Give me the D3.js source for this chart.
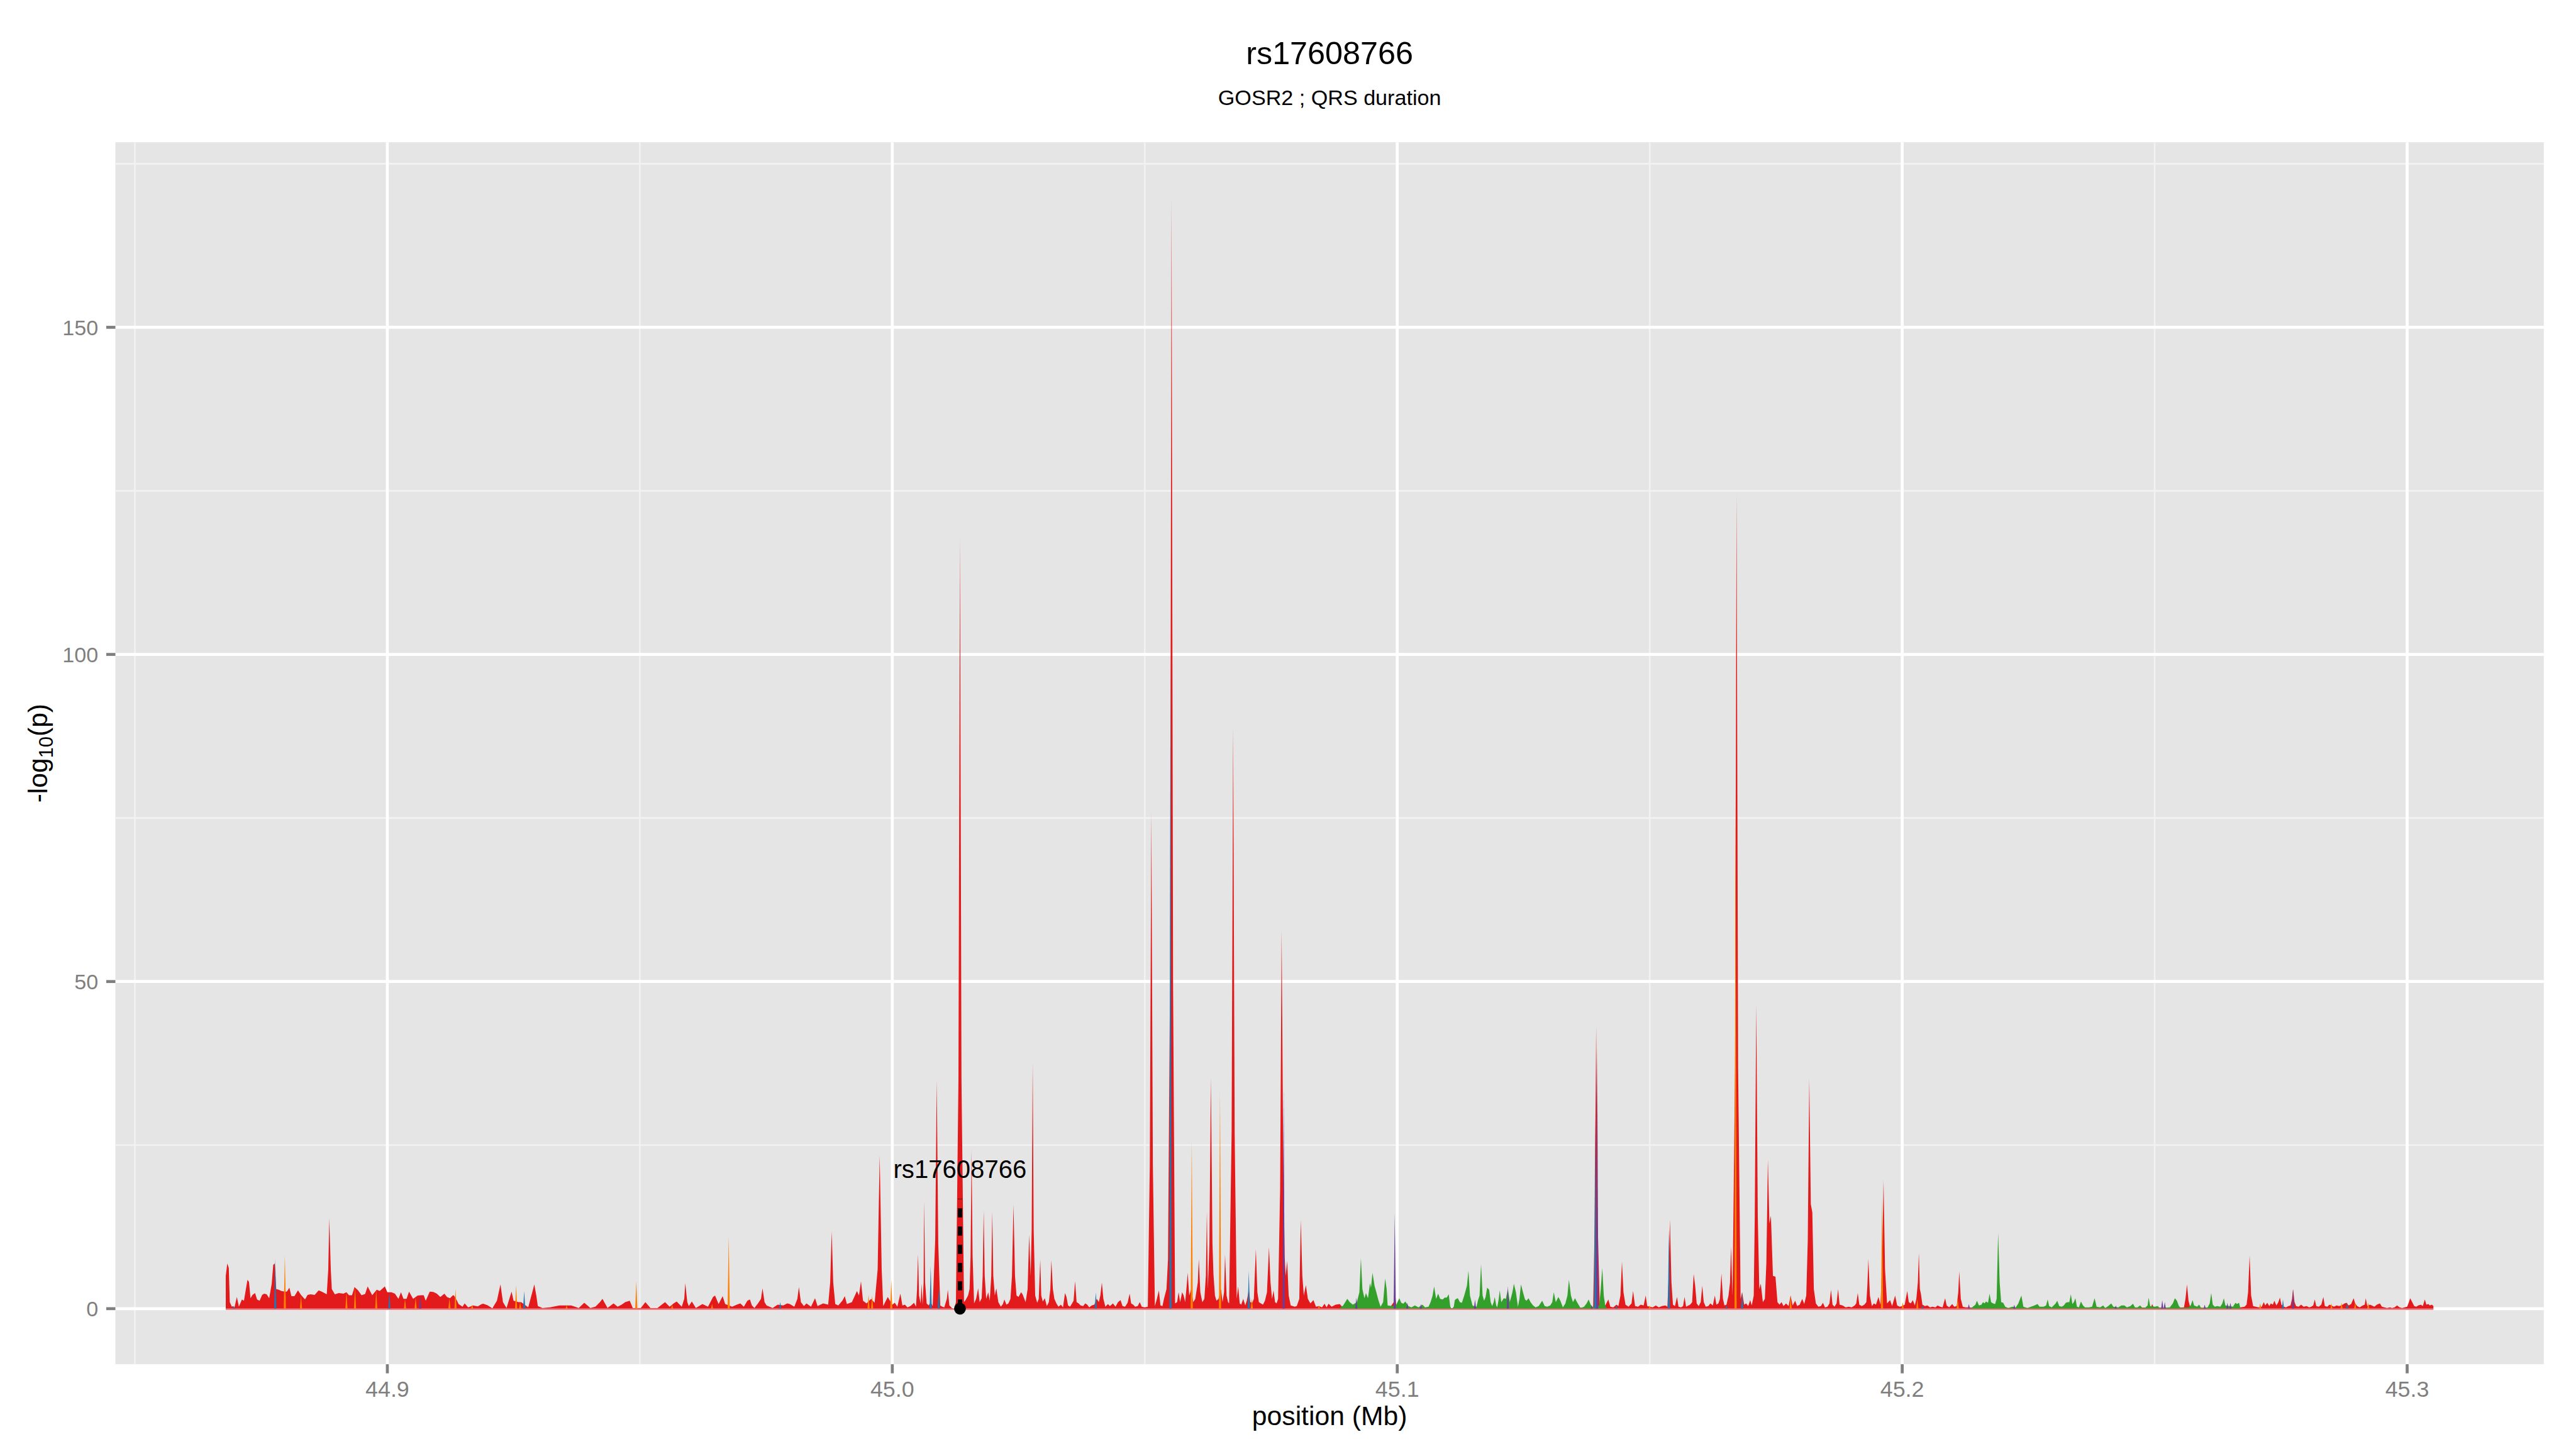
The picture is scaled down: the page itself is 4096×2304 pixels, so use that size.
<!DOCTYPE html>
<html>
<head>
<meta charset="utf-8">
<script src="https://cdn.jsdelivr.net/npm/d3@7"></script>
<style>
  html, body { margin: 0; padding: 0; background: #fff; }
  svg { display: block; }
  text { font-family: "Liberation Sans", Arial, Helvetica, sans-serif; }
</style>
</head>
<body>
<div id="chart"></div>
<script>
// Titles and labels
const plotTitle = "rs17608766";
const plotSubtitle = "GOSR2 ; QRS duration";
const xLabel = "position (Mb)";
const leadSnp = { name: "rs17608766", pos: 45.0134, labelAt: 21, lineTop: 16.8 };

// Axis ticks
const xTicks = [44.9, 45.0, 45.1, 45.2, 45.3];
const xMinorTicks = [44.85, 44.95, 45.05, 45.15, 45.25];
const yTicks = [0, 50, 100, 150];
const yMinorTicks = [25, 75, 125, 175];

// [position (Mb), -log10(p)], one list per LD colour
const ldRed = [
  [44.8680,5.0],[44.8683,6.9],[44.8686,6.2],[44.8688,1.0],[44.8692,0.3],[44.8695,0.4],[44.8697,0.1],[44.8702,1.8],[44.8706,0.3],[44.8712,1.4],
  [44.8716,1.2],[44.8723,4.4],[44.8726,4.1],[44.8729,1.6],[44.8733,2.1],[44.8738,2.4],[44.8742,1.4],[44.8747,1.2],[44.8752,2.1],[44.8756,2.3],
  [44.8761,2.2],[44.8766,1.6],[44.8771,3.8],[44.8774,6.7],[44.8777,6.9],[44.8780,3.0],[44.8785,2.9],[44.8790,2.7],[44.8797,2.6],[44.8801,2.6],
  [44.8806,3.2],[44.8810,1.9],[44.8816,1.9],[44.8823,2.8],[44.8829,2.1],[44.8837,1.4],[44.8842,2.1],[44.8848,2.2],[44.8856,2.1],[44.8864,2.8],
  [44.8870,2.6],[44.8880,2.2],[44.8883,6.0],[44.8885,13.8],[44.8888,6.0],[44.8890,3.0],[44.8896,2.2],[44.8904,2.4],[44.8913,2.3],[44.8919,2.5],
  [44.8924,2.05],[44.8930,2.05],[44.8935,3.3],[44.8942,2.8],[44.8949,2.05],[44.8956,2.25],[44.8961,3.4],[44.8970,2.05],[44.8979,2.9],[44.8985,2.7],
  [44.8995,3.4],[44.9000,2.5],[44.9008,2.5],[44.9015,2.3],[44.9022,1.5],[44.9027,2.5],[44.9032,1.5],[44.9038,1.5],[44.9043,2.6],[44.9051,1.5],
  [44.9060,2.0],[44.9067,2.05],[44.9072,2.05],[44.9076,1.2],[44.9084,2.6],[44.9091,2.55],[44.9098,2.3],[44.9105,1.8],[44.9113,2.3],[44.9118,1.8],
  [44.9124,1.6],[44.9130,2.05],[44.9132,2.0],[44.9138,1.2],[44.9141,0.7],[44.9149,0.3],[44.9153,0.8],[44.9160,0.2],[44.9170,0.5],[44.9179,0.35],
  [44.9187,0.7],[44.9190,0.75],[44.9198,0.55],[44.9208,0.05],[44.9217,1.2],[44.9224,3.7],[44.9229,1.0],[44.9236,0.1],[44.9246,2.6],[44.9250,1.2],
  [44.9260,1.0],[44.9265,1.0],[44.9279,0.2],[44.9288,2.8],[44.9291,3.7],[44.9295,2.0],[44.9298,0.4],[44.9307,0.1],[44.9322,0.2],[44.9341,0.5],
  [44.9364,0.5],[44.9379,0.1],[44.9390,0.9],[44.9402,0.1],[44.9412,0.3],[44.9421,1.0],[44.9426,1.5],[44.9431,0.8],[44.9436,0.1],[44.9448,0.8],
  [44.9456,0.3],[44.9464,0.6],[44.9471,1.0],[44.9480,1.2],[44.9486,0.1],[44.9502,0.1],[44.9511,1.0],[44.9521,0.1],[44.9535,0.1],[44.9545,0.7],
  [44.9550,1.0],[44.9559,0.3],[44.9567,0.8],[44.9573,1.1],[44.9583,0.3],[44.9588,1.5],[44.9590,3.9],[44.9594,1.0],[44.9597,0.4],[44.9603,1.1],
  [44.9611,0.1],[44.9624,0.7],[44.9635,0.3],[44.9645,1.8],[44.9649,2.0],[44.9656,0.7],[44.9664,1.9],[44.9669,0.7],[44.9683,0.3],[44.9692,0.6],
  [44.9699,0.8],[44.9706,0.3],[44.9713,1.2],[44.9718,1.4],[44.9722,0.5],[44.9727,0.1],[44.9734,0.8],[44.9740,1.5],[44.9743,3.1],[44.9747,1.0],
  [44.9751,0.5],[44.9763,0.1],[44.9773,0.6],[44.9784,0.5],[44.9792,0.8],[44.9797,0.7],[44.9806,0.3],[44.9812,1.5],[44.9815,3.3],[44.9819,1.0],
  [44.9825,0.4],[44.9830,0.8],[44.9839,0.3],[44.9847,1.6],[44.9852,0.4],[44.9863,0.8],[44.9873,0.6],[44.9877,4.0],[44.9880,11.8],[44.9883,4.0],
  [44.9887,0.7],[44.9893,0.5],[44.9901,1.2],[44.9906,1.9],[44.9910,0.7],[44.9920,1.0],[44.9930,2.7],[44.9934,2.0],[44.9938,4.2],[44.9942,1.2],
  [44.9949,0.8],[44.9958,1.5],[44.9965,0.9],[44.9971,6.0],[44.9975,23.4],[44.9979,6.0],[44.9982,0.4],[44.9991,1.8],[45.0000,0.6],[45.0005,0.9],
  [45.0010,0.3],[45.0016,2.3],[45.0020,0.5],[45.0025,0.6],[45.0030,0.2],[45.0036,0.4],[45.0043,0.9],[45.0047,0.3],[45.0049,3.0],[45.0051,8.3],
  [45.0053,2.0],[45.0056,0.8],[45.0058,3.8],[45.0060,0.6],[45.0062,4.0],[45.0063,16.5],[45.0065,4.0],[45.0068,0.8],[45.0072,0.5],[45.0076,1.0],
  [45.0080,0.4],[45.0085,10.5],[45.0088,34.9],[45.0091,10.0],[45.0095,0.5],[45.0099,0.3],[45.0103,0.2],[45.0108,1.5],[45.0110,2.9],[45.0113,0.5],
  [45.0118,0.1],[45.0123,0.0],[45.0126,1.0],[45.0131,35.0],[45.0134,117.8],[45.0137,35.0],[45.0142,1.0],[45.0145,1.3],[45.0150,2.0],[45.0153,3.0],
  [45.0155,8.0],[45.0157,24.2],[45.0159,8.0],[45.0162,0.8],[45.0166,1.5],[45.0170,3.1],[45.0173,1.0],[45.0177,1.6],[45.0179,5.0],[45.0181,15.0],
  [45.0183,5.0],[45.0186,1.5],[45.0190,2.5],[45.0193,1.2],[45.0196,5.0],[45.0198,14.8],[45.0200,5.0],[45.0203,2.0],[45.0206,3.1],[45.0210,1.0],
  [45.0215,0.3],[45.0219,0.7],[45.0222,1.4],[45.0226,0.6],[45.0230,0.8],[45.0234,1.5],[45.0237,5.0],[45.0240,15.9],[45.0243,5.0],[45.0246,2.0],
  [45.0250,1.8],[45.0255,2.5],[45.0258,2.2],[45.0264,1.0],[45.0268,3.0],[45.0271,11.3],[45.0274,5.0],[45.0276,12.0],[45.0278,37.5],[45.0280,12.0],
  [45.0283,2.0],[45.0287,0.9],[45.0290,1.5],[45.0293,7.5],[45.0295,2.0],[45.0298,1.1],[45.0302,1.6],[45.0306,0.4],[45.0310,1.0],[45.0313,3.0],
  [45.0315,7.4],[45.0318,3.0],[45.0321,1.5],[45.0325,0.8],[45.0329,0.3],[45.0334,0.6],[45.0338,0.2],[45.0342,2.4],[45.0345,1.8],[45.0348,0.5],
  [45.0352,0.3],[45.0356,0.8],[45.0359,1.2],[45.0362,4.2],[45.0365,1.0],[45.0369,0.8],[45.0373,0.5],[45.0378,0.4],[45.0382,0.8],[45.0386,0.6],
  [45.0390,0.2],[45.0395,0.5],[45.0400,0.6],[45.0405,1.5],[45.0409,1.0],[45.0412,2.0],[45.0415,4.0],[45.0418,1.5],[45.0422,0.3],[45.0427,0.7],
  [45.0431,0.4],[45.0437,0.8],[45.0442,0.3],[45.0447,1.0],[45.0452,1.3],[45.0456,0.4],[45.0461,0.3],[45.0466,0.9],[45.0470,2.3],[45.0473,0.8],
  [45.0477,0.6],[45.0481,0.3],[45.0486,0.4],[45.0490,1.0],[45.0494,0.3],[45.0500,0.2],[45.0506,0.3],[45.0510,22.0],[45.0513,75.9],[45.0516,22.0],
  [45.0520,0.4],[45.0524,1.5],[45.0528,2.8],[45.0531,0.5],[45.0535,0.4],[45.0538,1.5],[45.0543,3.0],[45.0546,7.5],[45.0550,50.0],[45.0553,169.8],
  [45.0556,50.0],[45.0560,0.8],[45.0564,1.0],[45.0567,2.5],[45.0570,1.0],[45.0574,2.5],[45.0577,2.0],[45.0580,1.0],[45.0583,3.5],[45.0585,5.5],
  [45.0588,2.0],[45.0592,3.0],[45.0596,1.0],[45.0600,1.5],[45.0603,3.0],[45.0605,4.0],[45.0607,7.6],[45.0610,2.5],[45.0614,1.0],[45.0618,1.5],
  [45.0621,5.0],[45.0623,14.8],[45.0625,3.0],[45.0628,10.0],[45.0631,35.3],[45.0634,10.0],[45.0636,5.3],[45.0639,2.0],[45.0642,1.2],[45.0646,1.5],
  [45.0651,3.0],[45.0654,1.0],[45.0657,2.5],[45.0659,8.3],[45.0662,2.0],[45.0665,1.0],[45.0667,0.8],[45.0672,27.0],[45.0675,88.9],[45.0678,27.0],
  [45.0682,1.5],[45.0685,3.4],[45.0688,0.8],[45.0691,0.6],[45.0695,1.5],[45.0699,0.5],[45.0702,1.2],[45.0704,2.0],[45.0706,3.0],[45.0709,1.0],
  [45.0713,0.9],[45.0716,1.5],[45.0720,9.1],[45.0723,2.5],[45.0726,1.0],[45.0730,0.8],[45.0734,0.6],[45.0738,1.2],[45.0742,2.5],[45.0746,9.4],
  [45.0749,4.0],[45.0752,1.5],[45.0755,2.8],[45.0758,1.0],[45.0761,0.8],[45.0764,1.5],[45.0768,18.0],[45.0771,57.9],[45.0774,25.0],[45.0777,8.0],
  [45.0779,5.0],[45.0782,7.3],[45.0785,2.0],[45.0789,0.5],[45.0793,0.4],[45.0797,0.3],[45.0801,0.4],[45.0806,1.5],[45.0809,13.6],[45.0812,5.0],
  [45.0815,2.0],[45.0819,3.6],[45.0823,1.5],[45.0828,0.8],[45.0834,1.3],[45.0839,0.3],[45.0845,0.4],[45.0851,0.2],[45.0856,0.75],[45.0860,0.2],
  [45.0864,0.75],[45.0870,0.3],[45.0878,0.6],[45.0886,0.7],[45.0892,0.2],[45.0900,0.2],[45.0915,0.1],[45.0935,0.2],[45.0960,0.1],[45.0985,0.1],
  [45.0993,1.0],[45.0995,3.0],[45.0998,0.5],[45.1010,0.2],[45.1040,0.1],[45.1080,0.1],[45.1120,0.05],[45.1160,0.1],[45.1200,0.1],[45.1222,0.3],
  [45.1225,1.7],[45.1228,0.2],[45.1260,0.1],[45.1300,0.1],[45.1340,0.1],[45.1385,0.2],[45.1388,0.3],[45.1391,13.0],[45.1394,43.2],[45.1397,13.0],
  [45.1401,0.4],[45.1412,0.5],[45.1418,1.4],[45.1422,0.3],[45.1428,0.2],[45.1434,0.6],[45.1438,0.4],[45.1442,2.0],[45.1445,7.2],[45.1448,2.5],
  [45.1452,0.6],[45.1458,0.3],[45.1464,0.8],[45.1467,2.7],[45.1471,0.4],[45.1477,0.3],[45.1482,0.6],[45.1488,0.5],[45.1492,2.0],[45.1495,0.4],
  [45.1500,0.3],[45.1506,0.2],[45.1512,0.5],[45.1518,0.2],[45.1524,0.4],[45.1531,0.5],[45.1535,0.3],[45.1537,4.0],[45.1540,13.6],[45.1543,4.0],
  [45.1546,0.6],[45.1550,0.4],[45.1554,1.8],[45.1557,0.3],[45.1562,0.2],[45.1566,0.4],[45.1569,1.8],[45.1572,0.3],[45.1577,0.5],[45.1580,0.6],
  [45.1584,1.0],[45.1587,5.3],[45.1590,3.5],[45.1593,0.8],[45.1597,0.4],[45.1601,1.0],[45.1604,3.5],[45.1607,1.0],[45.1611,0.3],[45.1616,0.4],
  [45.1620,0.8],[45.1625,0.5],[45.1629,2.0],[45.1632,0.6],[45.1636,0.8],[45.1639,1.5],[45.1642,5.4],[45.1645,1.5],[45.1648,0.5],[45.1652,0.6],
  [45.1656,2.0],[45.1659,4.0],[45.1661,9.5],[45.1664,2.0],[45.1669,37.0],[45.1672,124.5],[45.1675,37.0],[45.1680,1.5],[45.1683,2.5],[45.1687,0.6],
  [45.1691,0.8],[45.1695,0.4],[45.1699,1.3],[45.1702,0.5],[45.1706,2.0],[45.1708,14.0],[45.1711,46.5],[45.1714,14.0],[45.1717,3.0],[45.1720,3.8],
  [45.1724,1.0],[45.1728,1.5],[45.1731,7.0],[45.1734,22.8],[45.1737,13.0],[45.1740,14.2],[45.1744,5.0],[45.1749,4.9],[45.1753,1.0],[45.1757,0.6],
  [45.1761,1.0],[45.1765,0.4],[45.1770,0.8],[45.1775,0.4],[45.1779,2.0],[45.1783,0.5],[45.1788,1.2],[45.1792,0.4],[45.1797,0.6],[45.1802,1.5],
  [45.1806,0.7],[45.1810,2.0],[45.1813,10.5],[45.1816,35.2],[45.1819,16.0],[45.1822,14.7],[45.1825,3.0],[45.1829,0.8],[45.1834,0.3],[45.1839,0.4],
  [45.1843,0.9],[45.1847,0.2],[45.1852,0.3],[45.1856,0.8],[45.1859,2.9],[45.1862,0.6],[45.1866,0.3],[45.1870,0.8],[45.1873,3.0],[45.1876,0.6],
  [45.1882,0.5],[45.1888,0.2],[45.1894,0.3],[45.1900,0.2],[45.1906,0.5],[45.1909,0.8],[45.1912,2.4],[45.1915,0.6],[45.1920,0.4],[45.1925,0.6],
  [45.1929,1.0],[45.1931,3.5],[45.1933,7.6],[45.1936,2.0],[45.1940,0.4],[45.1944,0.8],[45.1948,0.6],[45.1953,1.8],[45.1957,0.6],[45.1960,6.0],
  [45.1963,19.6],[45.1966,6.0],[45.1970,0.8],[45.1976,1.3],[45.1980,0.4],[45.1986,2.0],[45.1990,0.5],[45.1995,0.3],[45.2000,0.4],[45.2005,0.6],
  [45.2010,2.7],[45.2013,1.0],[45.2017,0.8],[45.2021,1.3],[45.2025,0.5],[45.2028,1.5],[45.2031,4.0],[45.2033,8.5],[45.2035,3.0],[45.2037,2.3],
  [45.2040,0.6],[45.2045,0.4],[45.2050,0.5],[45.2055,0.2],[45.2060,0.3],[45.2066,0.2],[45.2070,0.5],[45.2075,0.3],[45.2080,0.2],[45.2085,1.6],
  [45.2088,0.5],[45.2093,0.2],[45.2099,0.7],[45.2103,0.3],[45.2108,0.4],[45.2111,2.5],[45.2113,5.7],[45.2116,1.5],[45.2120,0.3],[45.2125,0.2],
  [45.2130,0.2],[45.2150,0.1],[45.2200,0.1],[45.2250,0.1],[45.2300,0.1],[45.2350,0.1],[45.2400,0.1],[45.2450,0.1],[45.2493,0.2],[45.2495,0.7],
  [45.2498,0.2],[45.2530,0.1],[45.2558,0.2],[45.2561,1.5],[45.2564,3.7],[45.2567,1.2],[45.2570,0.3],[45.2600,0.1],[45.2670,0.2],[45.2678,0.3],
  [45.2682,0.6],[45.2685,2.5],[45.2688,8.1],[45.2691,2.0],[45.2695,0.4],[45.2700,0.3],[45.2706,0.2],[45.2712,0.3],[45.2716,1.0],[45.2719,0.5],
  [45.2723,0.9],[45.2727,0.4],[45.2730,0.8],[45.2734,0.6],[45.2737,1.2],[45.2741,0.5],[45.2745,1.0],[45.2748,1.7],[45.2751,0.6],[45.2756,0.3],
  [45.2760,0.2],[45.2765,0.4],[45.2769,0.5],[45.2772,1.5],[45.2774,3.0],[45.2777,1.0],[45.2780,0.4],[45.2785,0.3],[45.2790,0.6],[45.2795,0.3],
  [45.2801,0.4],[45.2806,0.2],[45.2810,0.3],[45.2814,0.5],[45.2817,1.4],[45.2820,0.4],[45.2825,0.3],[45.2830,0.6],[45.2834,1.8],[45.2837,0.4],
  [45.2842,0.3],[45.2846,0.6],[45.2850,0.5],[45.2855,0.3],[45.2860,0.5],[45.2865,0.4],[45.2870,0.5],[45.2876,0.8],[45.2880,0.9],[45.2884,0.5],
  [45.2889,0.7],[45.2894,1.6],[45.2897,0.8],[45.2901,0.4],[45.2906,0.2],[45.2912,0.5],[45.2916,0.6],[45.2918,1.6],[45.2921,0.4],[45.2926,0.6],
  [45.2930,0.5],[45.2935,0.3],[45.2940,0.6],[45.2946,0.8],[45.2950,0.3],[45.2955,0.2],[45.2960,0.1],[45.2966,0.2],[45.2970,0.1],[45.2975,0.2],
  [45.2980,0.5],[45.2985,0.2],[45.2990,0.1],[45.2995,0.2],[45.3000,0.3],[45.3003,0.9],[45.3006,1.6],[45.3010,1.0],[45.3014,0.4],[45.3018,0.3],
  [45.3022,0.5],[45.3027,0.6],[45.3031,0.4],[45.3035,1.4],[45.3038,0.6],[45.3042,0.7],[45.3045,0.5],[45.3049,0.6],[45.3052,0.4]
];

const ldGreenWest = [
  [45.0885,0],[45.0893,0.5],[45.0901,1.5],[45.0906,1.0],[45.0912,0.6],[45.0920,1.0],[45.0925,2.5],[45.0928,7.7],[45.0931,3.0],[45.0935,1.6],
  [45.0938,2.4],[45.0942,1.6],[45.0946,3.9],[45.0948,3.2],[45.0951,5.5],[45.0955,3.5],[45.0959,2.4],[45.0963,1.2],[45.0967,0.3],[45.0972,1.0],
  [45.0976,4.6],[45.0979,3.0],[45.0981,0.5],[45.0990,0.4],[45.0998,0.6],[45.1004,1.6],[45.1008,0.9],[45.1012,0.75],[45.1016,1.1],[45.1022,0.4],
  [45.1028,0.2],[45.1035,0.5],[45.1042,0.2],[45.1050,0.6],[45.1055,0.2],[45.1062,0.3],[45.1066,1.0],[45.1070,2.0],[45.1073,3.4],[45.1077,1.5],
  [45.1081,2.3],[45.1085,1.5],[45.1090,1.4],[45.1094,1.7],[45.1098,1.7],[45.1102,2.2],[45.1105,0.3],[45.1108,0],[45.1112,0.3],[45.1114,1.3],
  [45.1117,1.5],[45.1120,1.6],[45.1124,1.0],[45.1128,0.9],[45.1133,2.1],[45.1138,3.5],[45.1141,5.8],[45.1144,2.0],[45.1149,0.5],[45.1152,0.4],
  [45.1157,0.3],[45.1160,1.3],[45.1163,2.0],[45.1166,6.8],[45.1169,2.0],[45.1172,1.2],[45.1175,1.8],[45.1178,3.2],[45.1182,2.9],[45.1185,1.0],
  [45.1188,0.4],[45.1191,1.0],[45.1193,1.8],[45.1196,0.5],[45.1198,0.2],[45.1201,1.5],[45.1203,2.8],[45.1206,1.0],[45.1211,1.6],[45.1215,1.5],
  [45.1219,3.0],[45.1223,1.0],[45.1228,2.5],[45.1231,3.8],[45.1235,2.5],[45.1239,0.3],[45.1242,1.5],[45.1245,3.7],[45.1249,2.5],[45.1253,1.4],
  [45.1256,1.2],[45.1260,1.6],[45.1264,1.0],[45.1269,0.5],[45.1274,0.2],[45.1280,0.4],[45.1287,1.2],[45.1292,0.4],[45.1297,0.3],[45.1303,0.5],
  [45.1307,1.0],[45.1310,2.5],[45.1314,1.0],[45.1319,1.8],[45.1323,1.2],[45.1328,0.2],[45.1333,0.8],[45.1337,2.0],[45.1340,4.4],[45.1344,2.0],
  [45.1348,1.0],[45.1352,1.6],[45.1356,1.0],[45.1363,0.1],[45.1370,0.3],[45.1375,0.8],[45.1379,1.4],[45.1383,0.6],[45.1388,0.2],[45.1400,0.5],
  [45.1403,3.0],[45.1406,6.2],[45.1409,2.0],[45.1412,0.4],[45.1416,0]
];

const ldGreenEast = [
  [45.2135,0],[45.2140,0.3],[45.2145,0.6],[45.2148,1.2],[45.2152,0.5],[45.2157,0.6],[45.2160,1.0],[45.2163,0.8],[45.2166,1.1],[45.2170,0.9],
  [45.2173,2.3],[45.2176,1.0],[45.2180,0.8],[45.2184,0.7],[45.2187,1.5],[45.2190,11.6],[45.2193,4.0],[45.2196,1.0],[45.2200,0.9],[45.2204,0.3],
  [45.2210,0.1],[45.2218,0.3],[45.2225,0.2],[45.2230,0.8],[45.2236,2.0],[45.2240,0.3],[45.2248,0.1],[45.2255,0.3],[45.2262,0.5],[45.2268,0.7],
  [45.2272,0.3],[45.2280,0.3],[45.2285,0.5],[45.2288,1.4],[45.2291,0.4],[45.2296,0.2],[45.2300,0.5],[45.2304,0.8],[45.2307,1.2],[45.2311,0.4],
  [45.2316,0.3],[45.2320,0.5],[45.2324,0.9],[45.2328,1.0],[45.2331,1.0],[45.2334,2.2],[45.2337,0.7],[45.2340,1.0],[45.2343,1.6],[45.2346,0.3],
  [45.2350,0.2],[45.2354,1.1],[45.2358,0.5],[45.2362,0.2],[45.2370,0.2],[45.2376,0.3],[45.2381,1.6],[45.2385,0.3],[45.2392,0.2],[45.2398,0.5],
  [45.2402,0.1],[45.2408,0.4],[45.2414,0.8],[45.2418,0.3],[45.2428,0.2],[45.2434,0.5],[45.2440,0.5],[45.2445,0.2],[45.2452,0.4],[45.2457,0.75],
  [45.2461,0.2],[45.2466,0.2],[45.2471,0.5],[45.2476,0.1],[45.2482,0.2],[45.2486,0.5],[45.2488,1.7],[45.2491,0.4],[45.2500,0.3],[45.2506,0.4],
  [45.2510,0.1],[45.2530,0.2],[45.2536,0.8],[45.2540,1.6],[45.2544,1.2],[45.2548,0.4],[45.2552,0.1],[45.2568,0.2],[45.2572,0.6],[45.2575,1.3],
  [45.2578,0.5],[45.2584,0.3],[45.2588,0.6],[45.2592,0.1],[45.2605,0.2],[45.2609,0.8],[45.2612,2.4],[45.2615,0.6],[45.2619,0.3],[45.2624,0.4],
  [45.2630,0.3],[45.2634,0.8],[45.2637,1.6],[45.2640,0.5],[45.2655,0.3],[45.2660,0.9],[45.2663,0.7],[45.2667,0.9],[45.2670,0]
];

const ldOrange = [
  [44.8797,8.1],[44.8829,2.05],[44.8919,2.5],[44.8936,3.3],[44.8978,2.9],[44.9035,1.5],[44.9056,1.7],[44.9123,1.6],[44.9135,3.0],[44.9168,0.6],
  [44.9255,3.6],[44.9263,1.0],[44.9355,0.5],[44.9493,4.2],[44.9564,0.6],[44.9643,0.7],[44.9676,11.1],[44.9953,2.1],[44.9960,2.0],[44.9998,4.4],
  [45.0593,25.7],[45.0649,33.2],[45.0712,1.5],[45.0845,0.5],[45.1500,0.5],[45.1670,80.0],[45.1779,2.0],[45.1960,17.0],[45.2001,1.0],[45.2030,1.5],
  [45.2110,1.5],[45.2709,0.8],[45.2850,0.8],[45.2870,0.9],[45.2897,1.0],[45.2923,0.9]
];

const ldBlue = [
  [44.8696,0.4],[44.8778,7.6],[44.9004,2.5],[44.9271,2.7],[44.9778,1.0],[45.0076,6.5],[45.0092,3.3],[45.0403,2.5],[45.0551,100.0],[45.0706,5.8],
  [45.1392,30.0],[45.1434,0.5],[45.1538,12.0],[45.1652,0.5],[45.1683,2.5],[45.2040,0.4],[45.2754,1.4],[45.2881,0.9]
];

const ldPurple = [
  [44.9065,2.0],[45.0775,33.7],[45.0919,1.7],[45.0995,14.7],[45.1020,0.9],[45.1047,0.7],[45.1154,1.4],[45.1219,3.5],[45.1385,0.5],[45.1396,40.0],
  [45.2132,0.7],[45.2222,0.6],[45.2423,0.5],[45.2515,1.3],[45.2520,1.0],[45.2599,0.6],[45.2644,0.9],[45.2650,0.9],[45.2774,3.0]
];

const ldColors = { red: "#E31A1C", orange: "#FF7F00", green: "#33A02C", blue: "#1F78B4", purple: "#6A3D9A" };

// Page and panel layout, in reference pixels (scaled down by the viewBox)
const width = 4800, height = 2700;
const panel = { left: 215, right: 4740, top: 265, bottom: 2542 };

const svg = d3.select("#chart").append("svg")
    .attr("width", 4096)
    .attr("height", 2304)
    .attr("viewBox", `0 0 ${width} ${height}`);

svg.append("rect").attr("width", width).attr("height", height).attr("fill", "#fff");

// ggplot-style scales: data range plus 5% on each side
const allSnps = [].concat(ldRed, ldGreenWest, ldGreenEast, ldOrange, ldBlue, ldPurple);
const [xLo, xHi] = d3.extent(allSnps, d => d[0]);
const xPad = (xHi - xLo) * 0.05;
const yHi = d3.max(allSnps, d => d[1]);
const yPad = yHi * 0.05;

const x = d3.scaleLinear().domain([xLo - xPad, xHi + xPad]).range([panel.left, panel.right]);
const y = d3.scaleLinear().domain([-yPad, yHi + yPad]).range([panel.bottom, panel.top]);

// Panel background and grid
svg.append("rect")
    .attr("x", panel.left).attr("y", panel.top)
    .attr("width", panel.right - panel.left).attr("height", panel.bottom - panel.top)
    .attr("fill", "#E5E5E5");

const grid = svg.append("g");
grid.selectAll(".xminor").data(xMinorTicks).join("line")
    .attr("x1", d => x(d)).attr("x2", d => x(d))
    .attr("y1", panel.top).attr("y2", panel.bottom)
    .attr("stroke", "#F2F2F2").attr("stroke-width", 3);
grid.selectAll(".yminor").data(yMinorTicks).join("line")
    .attr("y1", d => y(d)).attr("y2", d => y(d))
    .attr("x1", panel.left).attr("x2", panel.right)
    .attr("stroke", "#F2F2F2").attr("stroke-width", 3);
grid.selectAll(".xmajor").data(xTicks).join("line")
    .attr("x1", d => x(d)).attr("x2", d => x(d))
    .attr("y1", panel.top).attr("y2", panel.bottom)
    .attr("stroke", "#fff").attr("stroke-width", 5.5);
grid.selectAll(".ymajor").data(yTicks).join("line")
    .attr("y1", d => y(d)).attr("y2", d => y(d))
    .attr("x1", panel.left).attr("x2", panel.right)
    .attr("stroke", "#fff").attr("stroke-width", 5.5);

// thin pinkish edge the areas leave on the zero line
svg.append("line")
    .attr("x1", x(xLo)).attr("x2", x(xHi))
    .attr("y1", y(0) + 1.2).attr("y2", y(0) + 1.2)
    .attr("stroke", "#EE8087").attr("stroke-width", 2.4);

// Association signal
const area = d3.area()
    .x(d => x(d[0]))
    .y0(y(0))
    .y1(d => y(d[1]));

const marks = svg.append("g");
marks.append("path").datum(ldRed).attr("d", area).attr("fill", ldColors.red);
marks.append("path").datum(ldGreenWest).attr("d", area).attr("fill", ldColors.green);
marks.append("path").datum(ldGreenEast).attr("d", area).attr("fill", ldColors.green);

// single SNPs of the other LD classes: narrow spikes on top
const spikeHalf = 2;
function spike(d) {
    const cx = x(d[0]);
    return `M${cx - spikeHalf},${y(0)}L${cx},${y(d[1])}L${cx + spikeHalf},${y(0)}Z`;
}
[["orange", ldOrange], ["blue", ldBlue], ["purple", ldPurple]].forEach(([key, list]) => {
    marks.append("g").selectAll("path").data(list).join("path")
        .attr("d", spike)
        .attr("fill", ldColors[key]);
});

// Lead SNP marker
svg.append("line")
    .attr("x1", x(leadSnp.pos)).attr("x2", x(leadSnp.pos))
    .attr("y1", y(0)).attr("y2", y(leadSnp.lineTop))
    .attr("stroke", "#000").attr("stroke-width", 8)
    .attr("stroke-dasharray", "17,17");
svg.append("circle")
    .attr("cx", x(leadSnp.pos)).attr("cy", y(0)).attr("r", 11)
    .attr("fill", "#000");
svg.append("text")
    .attr("x", x(leadSnp.pos)).attr("y", y(leadSnp.labelAt))
    .attr("text-anchor", "middle").attr("dominant-baseline", "middle")
    .attr("font-size", 47).attr("fill", "#000")
    .text(leadSnp.name);

// Axes
const axisGrey = "#7F7F7F";
const xAxis = svg.append("g");
xAxis.selectAll("line").data(xTicks).join("line")
    .attr("x1", d => x(d)).attr("x2", d => x(d))
    .attr("y1", panel.bottom).attr("y2", panel.bottom + 17)
    .attr("stroke", axisGrey).attr("stroke-width", 5.5);
xAxis.selectAll("text").data(xTicks).join("text")
    .attr("x", d => x(d)).attr("y", panel.bottom + 61)
    .attr("text-anchor", "middle")
    .attr("font-size", 42).attr("fill", axisGrey)
    .text(d3.format(".1f"));

const yAxis = svg.append("g");
yAxis.selectAll("line").data(yTicks).join("line")
    .attr("x1", panel.left - 17).attr("x2", panel.left)
    .attr("y1", d => y(d)).attr("y2", d => y(d))
    .attr("stroke", axisGrey).attr("stroke-width", 5.5);
yAxis.selectAll("text").data(yTicks).join("text")
    .attr("x", panel.left - 32).attr("y", d => y(d) + 14.5)
    .attr("text-anchor", "end")
    .attr("font-size", 40).attr("fill", axisGrey)
    .text(d => d);

// Titles
const midX = (panel.left + panel.right) / 2;
svg.append("text")
    .attr("x", midX).attr("y", 119)
    .attr("text-anchor", "middle").attr("font-size", 59).attr("fill", "#000")
    .text(plotTitle);
svg.append("text")
    .attr("x", midX).attr("y", 196)
    .attr("text-anchor", "middle").attr("font-size", 40).attr("fill", "#000")
    .text(plotSubtitle);
svg.append("text")
    .attr("x", midX).attr("y", 2655)
    .attr("text-anchor", "middle").attr("font-size", 50).attr("fill", "#000")
    .text(xLabel);

const yTitle = svg.append("text")
    .attr("transform", `translate(88,${(panel.top + panel.bottom) / 2}) rotate(-90)`)
    .attr("text-anchor", "middle").attr("font-size", 50).attr("fill", "#000");
yTitle.append("tspan").text("-log");
yTitle.append("tspan").attr("font-size", 36).attr("dy", 10).text("10");
yTitle.append("tspan").attr("dy", -10).text("(p)");
</script>
</body>
</html>
